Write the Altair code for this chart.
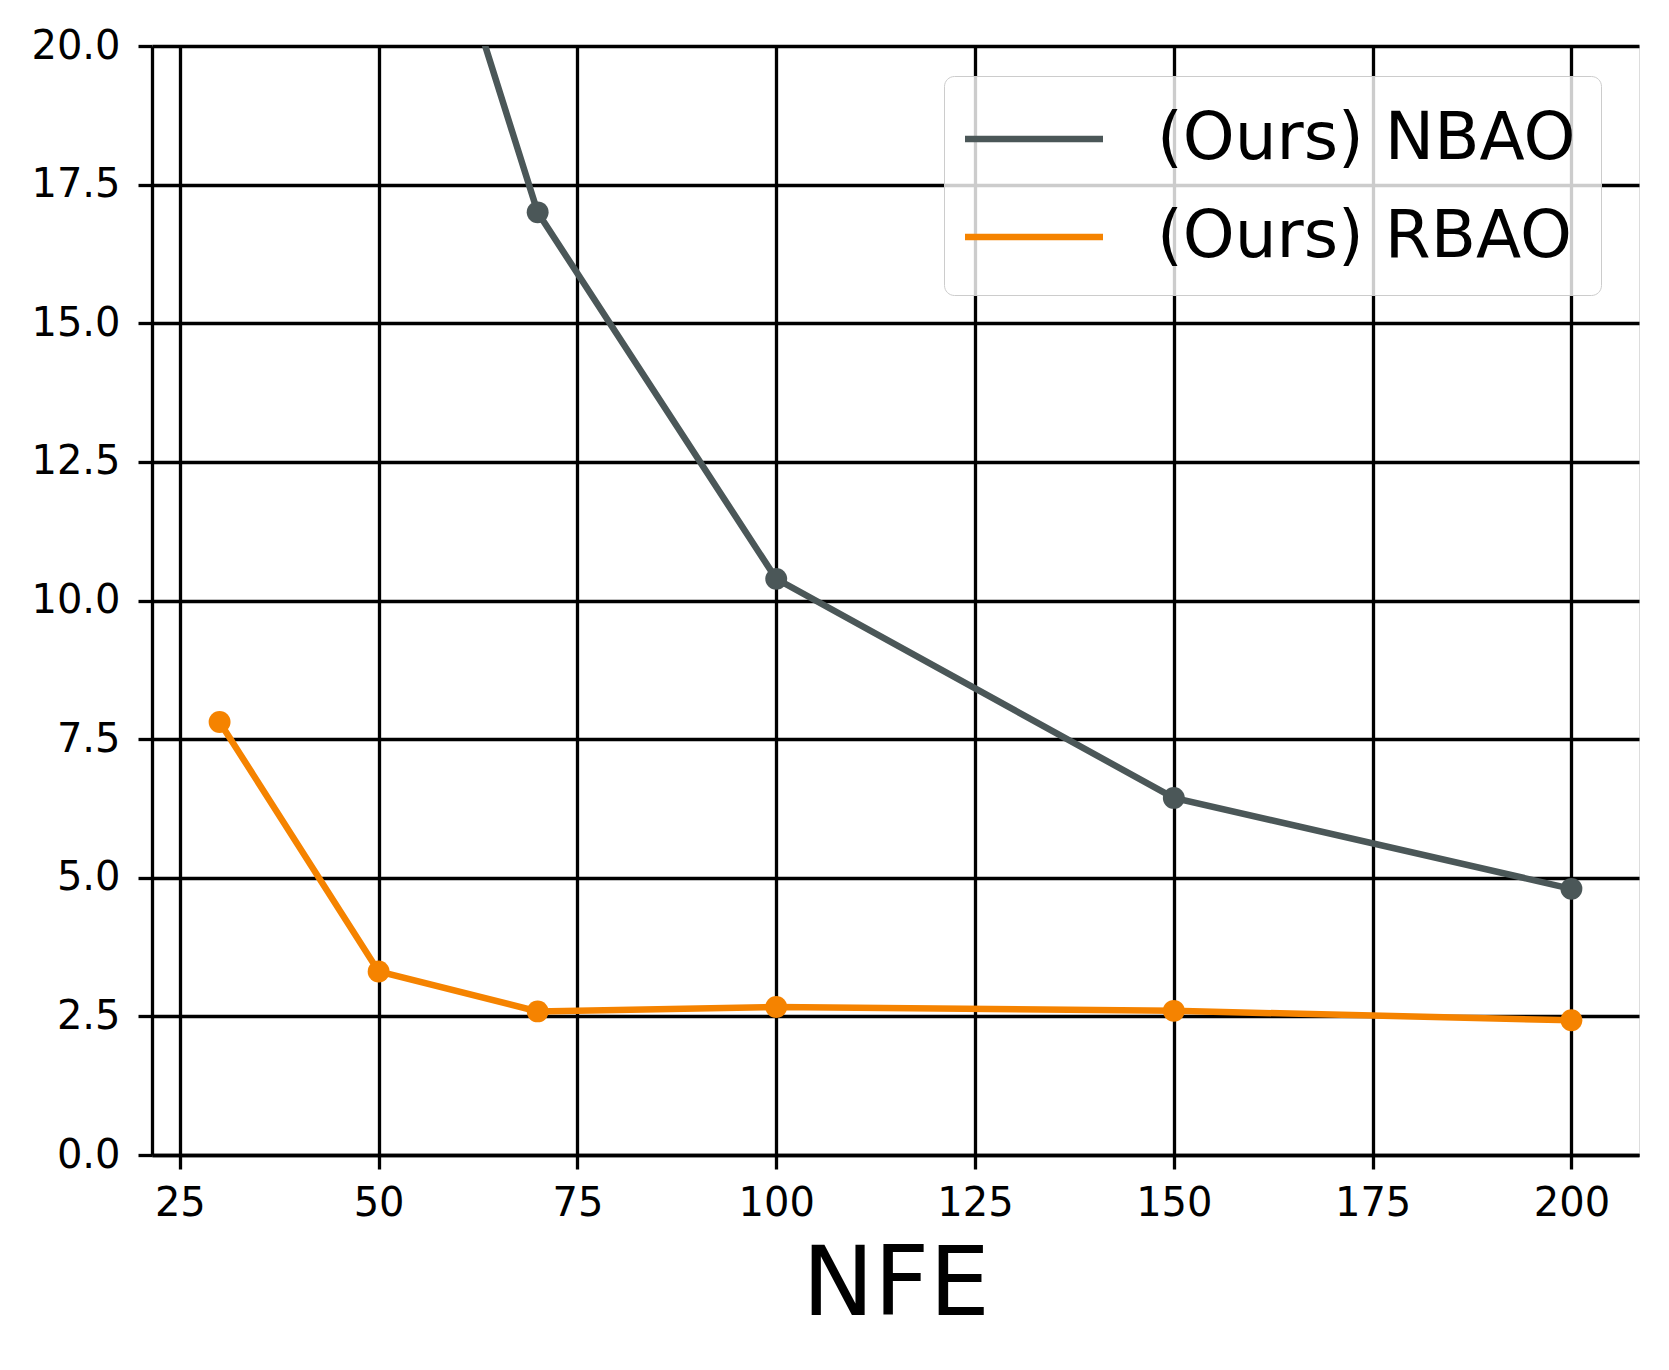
import altair as alt
import pandas as pd

nfe = [30, 50, 70, 100, 150, 200]
nbao = [42.0, 26.1, 17.0, 10.39, 6.44, 4.80]
rbao = [7.81, 3.31, 2.59, 2.67, 2.60, 2.43]
series_names = ["(Ours) NBAO", "(Ours) RBAO"]
series_colors = ["#4b5758", "#f58300"]
x_ticks = [25, 50, 75, 100, 125, 150, 175, 200]
y_ticks = [0, 2.5, 5, 7.5, 10, 12.5, 15, 17.5, 20]

rows = []
for x, v in zip(nfe, nbao):
    rows.append({"NFE": x, "value": v, "series": series_names[0]})
for x, v in zip(nfe, rbao):
    rows.append({"NFE": x, "value": v, "series": series_names[1]})
df = pd.DataFrame(rows)

FONT = "DejaVu Sans"
LW = 3.3

xenc = alt.X(
    "NFE:Q",
    scale=alt.Scale(domain=[21.5, 208.5], nice=False, zero=False),
    axis=alt.Axis(
        values=x_ticks, title="NFE", format="d",
        grid=True, gridColor="black", gridWidth=LW, gridOpacity=1,
        tickSize=14, tickWidth=LW, tickColor="black",
        domainColor="black", domainWidth=LW,
        labelFont=FONT, labelFontSize=40, labelColor="black", labelPadding=14,
        labelFlush=False,
        titleFont=FONT, titleFontSize=96, titleFontWeight="normal",
        titleColor="black", titlePadding=15,
    ),
)
yenc = alt.Y(
    "value:Q",
    scale=alt.Scale(domain=[0, 20], nice=False, zero=False),
    axis=alt.Axis(
        values=y_ticks, title=None, format=".1f",
        grid=True, gridColor="black", gridWidth=LW, gridOpacity=1,
        tickSize=14, tickWidth=LW, tickColor="black",
        domainColor="black", domainWidth=LW,
        labelFont=FONT, labelFontSize=40, labelColor="black", labelPadding=18,
        labelFlush=False,
    ),
)
color_scale = alt.Scale(domain=series_names, range=series_colors)

lines = alt.Chart(df).mark_line(clip=True, strokeWidth=6.5).encode(
    x=xenc,
    y=yenc,
    color=alt.Color(
        "series:N",
        scale=color_scale,
        sort=series_names,
        legend=alt.Legend(
            title=None,
            orient="none",
            legendX=792,
            legendY=30,
            symbolType="M-2,0H2",
            symbolSize=4761,
            symbolStrokeWidth=6.5,
            symbolOffset=27,
            labelFont=FONT,
            labelFontSize=66,
            labelColor="black",
            labelLimit=0,
            labelOffset=85,
            rowPadding=27,
            padding=25,
            fillColor="rgba(255,255,255,0.8)",
            strokeColor="#cccccc",
            cornerRadius=10,
        ),
    ),
)
points = alt.Chart(df).mark_circle(clip=True, size=480, opacity=1).encode(
    x="NFE:Q",
    y="value:Q",
    color=alt.Color("series:N", scale=color_scale, legend=None),
)

chart = (
    alt.layer(lines, points)
    .properties(
        width=1487,
        height=1109,
        autosize=alt.AutoSizeParams(type="none"),
        padding={"left": 144, "top": 38, "right": 14, "bottom": 190},
    )
    .configure_view(stroke="black", strokeWidth=LW)
    .configure(background="white")
)

chart.save("out.html", embed_options={"renderer": "svg", "actions": False})
